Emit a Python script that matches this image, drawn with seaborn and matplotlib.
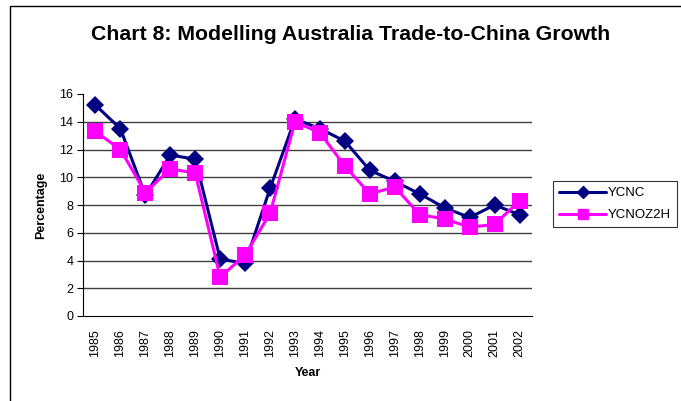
import numpy as np
import pandas as pd
import seaborn as sns
import matplotlib.pyplot as plt
from matplotlib.patches import Rectangle
from matplotlib.lines import Line2D

sns.set_theme(style="white")
plt.rcParams['font.family'] = ['Liberation Sans', 'DejaVu Sans']
plt.rcParams['text.color'] = 'black'
plt.rcParams['axes.labelcolor'] = 'black'
plt.rcParams['xtick.color'] = 'black'
plt.rcParams['ytick.color'] = 'black'

years = list(range(1985, 2003))
ycnc = [15.2, 13.5, 8.7, 11.6, 11.3, 4.1, 3.8, 9.2, 14.2, 13.5,
        12.6, 10.5, 9.7, 8.8, 7.8, 7.1, 8.0, 7.3]
ycnoz2h = [13.3, 12.0, 8.9, 10.6, 10.3, 2.8, 4.4, 7.4, 14.0, 13.2,
           10.8, 8.8, 9.3, 7.3, 7.0, 6.4, 6.6, 8.3]

df = pd.DataFrame({
    'Year': years * 2,
    'Percentage': ycnc + ycnoz2h,
    'series': ['YCNC'] * len(years) + ['YCNOZ2H'] * len(years),
})

palette = {'YCNC': '#000080', 'YCNOZ2H': '#FF00FF'}

fig = plt.figure(figsize=(6.81, 4.01), dpi=100)
ax = fig.add_axes([83 / 681, 1 - 316 / 401, 449 / 681, 222 / 401])

for y in range(2, 16, 2):
    ax.axhline(y, color='#404040', lw=1, zorder=0)

sns.lineplot(data=df, x='Year', y='Percentage', hue='series', style='series',
             markers={'YCNC': 'D', 'YCNOZ2H': 's'}, dashes=False,
             palette=palette, lw=2.2, markersize=9.5, markeredgewidth=0,
             ax=ax, legend=False, zorder=3)
# squares are a bit bigger in the original
for line in ax.get_lines():
    if line.get_marker() == 's':
        line.set_markersize(11)

ax.set_xlim(1984.5, 2002.5)
ax.set_ylim(0, 16)
ax.set_yticks(range(0, 17, 2))
ax.set_xticks(years)
ax.set_xticklabels([str(y) for y in years], rotation=90, fontsize=9)
ax.set_xticks(np.arange(1984.5, 2003, 1), minor=True)
ax.tick_params(axis='x', which='major', length=0, pad=9.5)
ax.tick_params(axis='x', which='minor', length=4, direction='out', width=0.8)
ax.tick_params(axis='y', length=4, direction='out', width=0.8, labelsize=9, pad=3)
ax.tick_params(axis='both', bottom=True, left=True)

for s in ['top', 'right']:
    ax.spines[s].set_visible(False)
for s in ['left', 'bottom']:
    ax.spines[s].set_color('black')
    ax.spines[s].set_linewidth(0.8)

ax.set_xlabel('Year', fontsize=9, fontweight='bold', labelpad=7)
ax.set_ylabel('Percentage', fontsize=9, fontweight='bold', labelpad=9)

fig.text(0.515, 0.915, 'Chart 8: Modelling Australia Trade-to-China Growth',
         ha='center', va='center', fontsize=15.3, fontweight='bold')

# legend
handles = [Line2D([], [], color='#000080', marker='D', lw=2.2, markersize=6.5),
           Line2D([], [], color='#FF00FF', marker='s', lw=2.2, markersize=7.5)]
leg = fig.legend(handles, ['YCNC', 'YCNOZ2H'], loc='upper left',
                 bbox_to_anchor=(553 / 681, 1 - 181 / 401), fontsize=9.5,
                 frameon=True, fancybox=False, handlelength=3.6,
                 borderpad=0.45, labelspacing=0.75, handletextpad=0.1,
                 borderaxespad=0)
leg.get_frame().set_edgecolor('black')
leg.get_frame().set_linewidth(0.8)

# outer chart border (cropped on right and bottom)
fig.patches.append(Rectangle((10 / 681, -0.1), 1.2, 1 - 6 / 401 + 0.1,
                             transform=fig.transFigure, fill=False,
                             edgecolor='black', lw=1))

fig.savefig('out.png', dpi=100)
